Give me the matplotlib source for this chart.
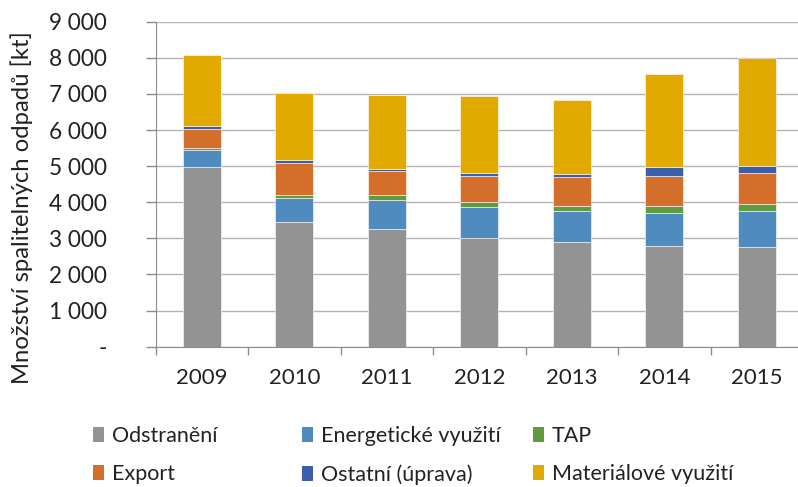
import matplotlib
matplotlib.use("Agg")
import matplotlib.pyplot as plt
from matplotlib.patches import Patch
import numpy as np

plt.rcParams['font.family'] = ['Lato', 'DejaVu Sans']

years = ["2009", "2010", "2011", "2012", "2013", "2014", "2015"]
series_names = ["Odstranění", "Energetické využití", "TAP", "Export",
                "Ostatní (úprava)", "Materiálové využití"]
odstraneni = [4980, 3460, 3260, 3010, 2890, 2790, 2750]
energeticke = [480, 665, 805, 850, 860, 915, 1000]
tap = [55, 65, 130, 155, 155, 195, 210]
export = [500, 905, 665, 710, 785, 830, 860]
ostatni = [85, 65, 65, 95, 100, 260, 195]
materialove = [1975, 1875, 2050, 2135, 2050, 2550, 2980]
colors = ["#939393", "#4F8BBF", "#629A40", "#D46F2B", "#3A5FAC", "#E2AA00"]

data = [odstraneni, energeticke, tap, export, ostatni, materialove]
txt = '#222222'

fig = plt.figure(figsize=(7.98, 4.87), dpi=100)
ax = fig.add_axes([155.7 / 798, 140.3 / 487, 647.5 / 798, 325 / 487])

x = np.arange(len(years))
bottom = np.zeros(len(years))
for vals, col, name in zip(data, colors, series_names):
    ax.bar(x, vals, width=0.41, bottom=bottom, color=col, label=name,
           edgecolor='white', linewidth=0.4, zorder=3)
    bottom += np.array(vals)

ax.set_ylim(0, 9000)
ax.set_xlim(-0.5, len(years) - 0.5)
ax.set_yticks(np.arange(0, 9001, 1000))
ax.set_yticklabels(["-" if v == 0 else f"{v:,}".replace(",", " ")
                    for v in range(0, 9001, 1000)])
ax.set_xticks(x)
ax.set_xticklabels(years)
ax.set_xticks(np.arange(-0.5, len(years) + 0.5, 1), minor=True)
ax.tick_params(axis='x', which='major', length=0, pad=15, labelsize=16,
               labelcolor=txt)
ax.tick_params(axis='x', which='minor', length=6, color='#8c8c8c', width=1)
ax.tick_params(axis='y', length=7, color='#8c8c8c', width=1, pad=28,
               labelsize=16.3, labelcolor=txt)
ax.grid(axis='y', color='#b4b4b4', linewidth=1, zorder=0)
for s in ['top', 'right']:
    ax.spines[s].set_visible(False)
for s in ['left', 'bottom']:
    ax.spines[s].set_color('#8c8c8c')
ax.set_ylabel("Množství spalitelných odpadů [kt]", fontsize=17.2, color=txt)
ax.yaxis.set_label_coords(-(155.7 - 33) / 647.5, 0.5 - 23 / 325)

handles = [Patch(facecolor=c, edgecolor='none') for c in colors]
cols = [(0, 3, 93), (1, 4, 302), (2, 5, 533)]
for i, j, xpx in cols:
    leg = fig.legend([handles[i], handles[j]],
                     [series_names[i], series_names[j]],
                     loc='upper left', bbox_to_anchor=(xpx / 798, 1 - 426 / 487),
                     frameon=False, fontsize=15.5, handlelength=0.5,
                     handleheight=0.7, handletextpad=0.37, labelspacing=0.85,
                     borderaxespad=0, borderpad=0)
    for t in leg.get_texts():
        t.set_color(txt)

fig.savefig("out.png", dpi=100)
